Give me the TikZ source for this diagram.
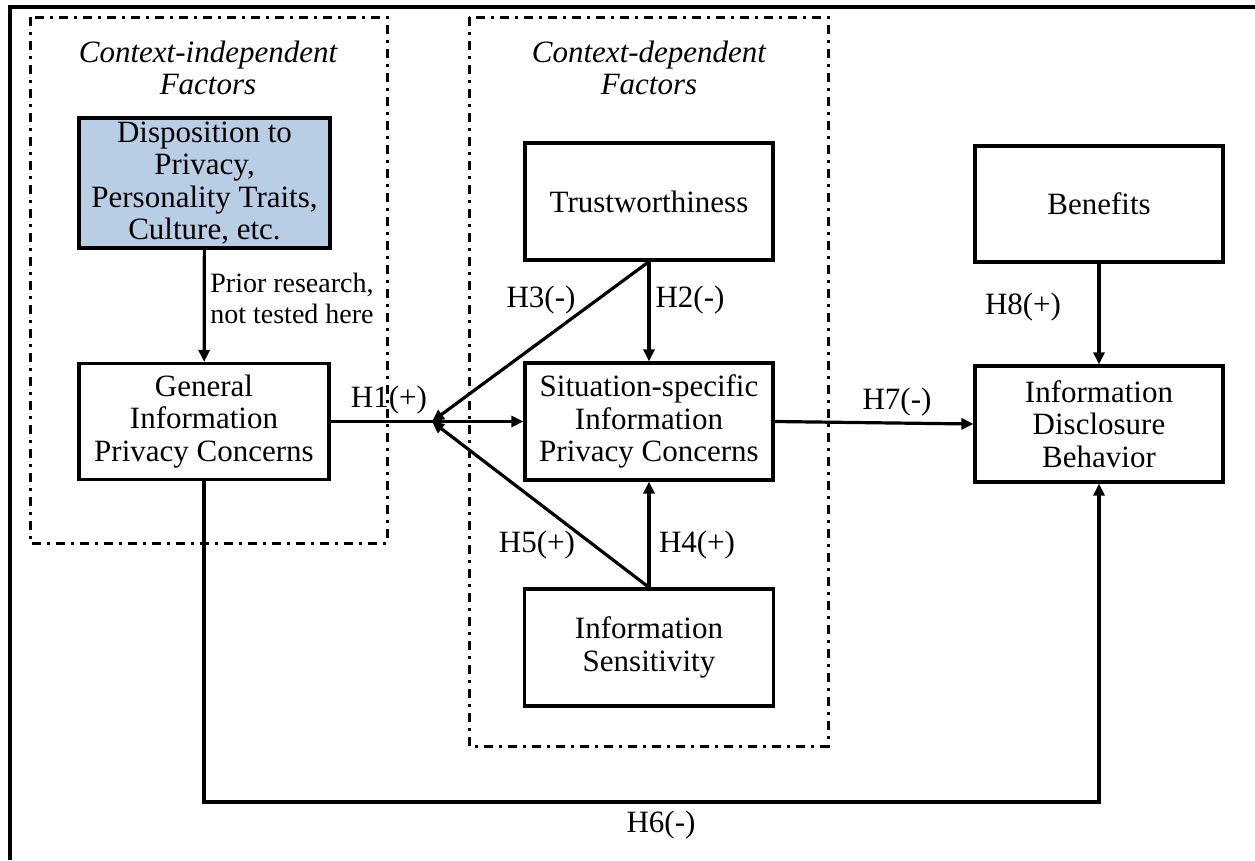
\documentclass[tikz,border=0pt]{standalone}
\usepackage{fontspec}
\setmainfont{Liberation Serif}
\usetikzlibrary{arrows.meta}
\definecolor{boxblue}{HTML}{B9CDE5}
\newcommand\mainfs{\fontsize{31}{32.5}\selectfont}
\newcommand\labfs{\fontsize{28}{31}\selectfont}
\tikzset{
  box/.style={draw, line width=3.2pt, align=center, inner sep=0pt, font=\mainfs},
  grp/.style={line width=3pt, dash pattern=on 9pt off 6pt on 3pt off 6pt},
  ttl/.style={align=center, inner sep=0pt, font=\mainfs\itshape},
  lab/.style={align=center, inner sep=0pt, font=\mainfs},
  note/.style={align=center, inner sep=0pt, font=\labfs},
  arr/.style={line width=3.2pt, -{Triangle[length=12pt,width=11pt]}}
}
\begin{document}
\begin{tikzpicture}[x=1pt,y=-1pt]
\useasboundingbox (0,0) rectangle (1255,860);
% outer frame
\draw[line width=3.5pt] (10,860) -- (10,7) -- (1255,7);
% groups
\draw[grp] (30,17) rectangle (387,543);
\draw[grp] (469,17) rectangle (828,746);
\node[ttl] (t1) at (208,68) {Context-independent\\Factors};
\node[ttl] (t2) at (649,68) {Context-dependent\\Factors};
% boxes
\node[box, fill=boxblue, minimum width=251pt, minimum height=130pt] (disp) at (204.5,183) {Disposition to\\Privacy,\\Personality Traits,\\Culture, etc.};
\node[box, minimum width=250pt, minimum height=116pt] (gen) at (204,421.5) {General\\Information\\Privacy Concerns};
\node[box, minimum width=248pt, minimum height=117pt] (trust) at (649,201.5) {Trustworthiness};
\node[box, minimum width=248pt, minimum height=117pt] (sit) at (649,421.5) {Situation-specific\\Information\\Privacy Concerns};
\node[box, minimum width=249pt, minimum height=117pt] (sens) at (649,647.5) {Information\\Sensitivity};
\node[box, minimum width=248pt, minimum height=116pt] (ben) at (1099,204) {Benefits};
\node[box, minimum width=248pt, minimum height=116pt] (disc) at (1099,424) {Information\\Disclosure\\Behavior};
% connectors
\coordinate (J) at (432,421.5);
\coordinate (c1) at (204,802);
\coordinate (c2) at (1099,802);
\draw[arr] (disp) -- (gen);
\draw[arr] (gen.east) -- (sit.west);
\draw[arr] (trust.south) -- (J);
\draw[arr] (sens.north) -- (J);
\draw[arr] (trust) -- (sit);
\draw[arr] (sens) -- (sit);
\draw[arr] (sit.east) -- (disc.west);
\draw[arr] (ben) -- (disc);
\draw[arr] (gen.south) -- (c1) -- (c2) -- (disc.south);
% labels
\node[note] (prior) at (292,298) {Prior research,\\not tested here};
\node[lab] (h1) at (389,400) {H1(+)};
\node[lab] (h2) at (690,300) {H2(-)};
\node[lab] (h3) at (541,300) {H3(-)};
\node[lab] (h4) at (697,545) {H4(+)};
\node[lab] (h5) at (537,545) {H5(+)};
\node[lab] (h6) at (661,825) {H6(-)};
\node[lab] (h7) at (897,402) {H7(-)};
\node[lab] (h8) at (1023,307) {H8(+)};
\end{tikzpicture}
\end{document}
